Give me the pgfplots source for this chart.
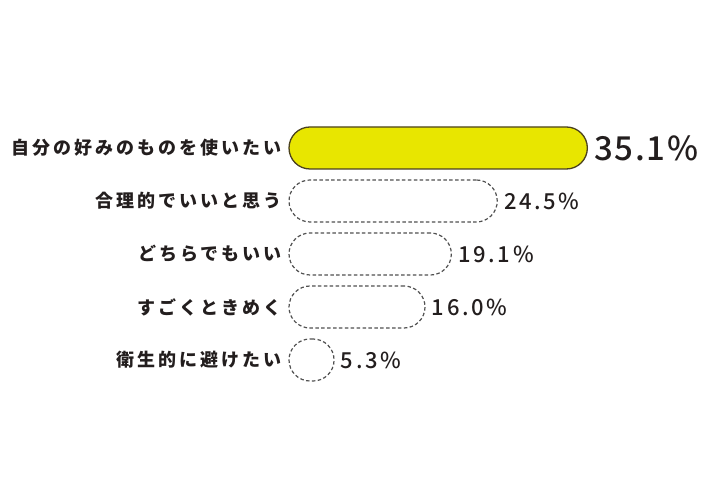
\documentclass[border=0pt]{standalone}
\usepackage{fontspec}
\usepackage{pgfplots}
\pgfplotsset{compat=1.18}
\newfontfamily\jp[LetterSpace=16.5]{Noto Sans CJK JP}
\newfontfamily\num[LetterSpace=12]{Noto Sans CJK JP Medium}
\newfontfamily\numbig[LetterSpace=5]{Noto Sans CJK JP Medium}
\definecolor{barYellow}{RGB}{232,230,0}
\definecolor{barEdge}{RGB}{75,65,30}
\definecolor{dashGray}{RGB}{80,80,80}
\definecolor{txt}{RGB}{35,30,30}

\begin{document}
\begin{tikzpicture}
\begin{axis}[
  width=720pt, height=480pt, scale only axis,
  xmin=-34, xmax=50.706,
  ymin=-2.792, ymax=6.264, y dir=reverse,
  hide axis, clip=false,
  /pgf/number format/assume math mode=true,
]
\path[use as bounding box] (rel axis cs:0,0) rectangle (rel axis cs:1,1);

% category labels
\addplot[draw=none, mark=none,
  nodes near coords, point meta=explicit symbolic,
  every node near coord/.append style={anchor=east, xshift=-4pt, yshift=0pt,
    font=\jp\bfseries\fontsize{18}{18}\selectfont, text=txt}]
  table[meta=label, col sep=comma] {
x,y,label
0,0,自分の好みのものを使いたい
0,1,合理的でいいと思う
0,2,どちらでもいい
0,3,すごくときめく
0,4,衛生的に避けたい
};

% top answer
\addplot[xbar, bar width=42pt, bar shift=0pt,
  fill=barYellow, draw=barEdge, line width=1.3pt, rounded corners=21pt,
  nodes near coords={\pgfmathprintnumber[fixed, fixed zerofill, precision=1]{\pgfplotspointmeta}\%},
  every node near coord/.append style={anchor=west, xshift=3pt,
    font=\numbig\fontsize{33}{33}\selectfont, text=txt}]
  coordinates {(35.1,0)};

% other answers
\addplot[xbar, bar width=42pt, bar shift=0pt,
  fill=white, draw=dashGray, line width=1.2pt, dash pattern=on 3.5pt off 2.4pt,
  rounded corners=21pt,
  nodes near coords={\pgfmathprintnumber[fixed, fixed zerofill, precision=1]{\pgfplotspointmeta}\%},
  every node near coord/.append style={anchor=west, xshift=3pt, solid,
    font=\num\fontsize{22}{22}\selectfont, text=txt}]
  coordinates {(24.5,1) (19.1,2) (16.0,3) (5.3,4)};
\end{axis}
\end{tikzpicture}
\end{document}
